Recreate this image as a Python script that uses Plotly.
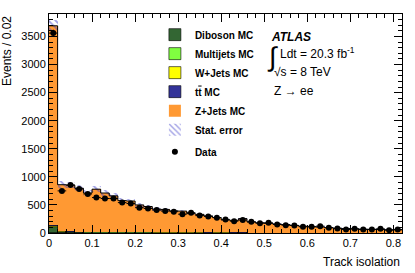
import numpy as np
import plotly.graph_objects as go

# ---------------- data ----------------
bin_width = 0.02
bin_edges = [round(i * 0.02, 2) for i in range(42)]   # 0 .. 0.82

data_counts = [3560, 750, 855, 785, 695, 631, 615, 615, 541, 525,
               451, 437, 409, 391, 380, 335, 362, 310, 295, 272,
               242, 211, 230, 200, 175, 183, 152, 140, 134, 111,
               111, 122, 93, 81, 63, 75, 63, 63, 75, 50, 63]

mc_total = [3690, 860, 852, 797, 712, 780, 712, 662, 577, 570,
            500, 472, 426, 420, 395, 390, 346, 332, 305, 276,
            232, 226, 256, 196, 181, 171, 160, 150, 135, 121,
            113, 106, 96, 86, 79, 73, 69, 66, 63, 59, 56]

diboson = [85, 14, 10, 9, 8, 8, 7, 7, 6, 6,
           6, 5, 5, 5, 4, 4, 4, 4, 3, 3,
           3, 3, 3, 3, 2, 2, 2, 2, 2, 2,
           2, 2, 2, 2, 1, 1, 1, 1, 1, 1, 1]
multijets = [25, 8, 6, 6, 5, 5, 5, 4, 4, 4,
             4, 4, 3, 3, 3, 3, 3, 3, 3, 2,
             2, 2, 2, 2, 2, 2, 2, 2, 2, 1,
             1, 1, 1, 1, 1, 1, 1, 1, 1, 1, 1]
wjets = [20, 6, 9, 4, 4, 6, 10, 9, 3, 3,
         8, 3, 3, 3, 3, 2, 2, 2, 2, 5,
         6, 2, 2, 2, 2, 2, 2, 2, 2, 1,
         2, 1, 1, 1, 4, 1, 1, 1, 1, 1, 1]
ttbar = [15, 5, 4, 4, 4, 3, 3, 3, 3, 3,
         3, 3, 2, 2, 2, 2, 2, 2, 2, 2,
         2, 2, 2, 1, 1, 1, 1, 1, 1, 1,
         1, 1, 1, 1, 1, 1, 1, 1, 1, 1, 1]
stat_err = [110, 60, 58, 52, 48, 50, 45, 42, 38, 37,
            34, 32, 30, 29, 28, 27, 25, 24, 22, 21,
            19, 19, 20, 17, 16, 15, 14, 14, 13, 12,
            11, 11, 10, 10, 9, 9, 8, 8, 8, 8, 7]

x_ticks = [0, 0.1, 0.2, 0.3, 0.4, 0.5, 0.6, 0.7, 0.8]
x_tick_labels = ["0", "0.1", "0.2", "0.3", "0.4", "0.5", "0.6", "0.7", "0.8"]
y_ticks = [0, 500, 1000, 1500, 2000, 2500, 3000, 3500]

# ---------------- derived ----------------
edges = np.array(bin_edges)
centers = (edges[:-1] + edges[1:]) / 2
mc = np.array(mc_total, float)
zjets = mc - np.array(diboson) - np.array(multijets) - np.array(wjets) - np.array(ttbar)
err = np.array(stat_err, float)
dat = np.array(data_counts, float)

FONT = "Liberation Sans, Arial, Helvetica, sans-serif"
fig = go.Figure()

small = [("Diboson MC", diboson, "#336633"),
         ("Multijets MC", multijets, "#80ff40"),
         ("W+Jets MC", wjets, "#ffff00"),
         ("t<span style='text-decoration:overline'>t</span> MC", ttbar, "#333399")]
for name, vals, col in small:
    fig.add_trace(go.Bar(x=centers, y=vals, width=bin_width, name=name,
                         marker=dict(color=col, line=dict(color="black", width=0.6)),
                         legendgroup="mc"))
fig.add_trace(go.Bar(x=centers, y=zjets, width=bin_width, name="Z+Jets MC",
                     marker=dict(color="#ff9933", line=dict(width=0)),
                     legendgroup="mc"))

# stat error hatched band
fig.add_trace(go.Bar(x=centers, y=2 * err, base=mc - err, width=bin_width,
                     name="Stat. error", legendgroup="mc",
                     marker=dict(color="rgba(0,0,0,0)",
                                 line=dict(width=0),
                                 pattern=dict(shape="\\", fgcolor="#4444cc",
                                              bgcolor="rgba(255,255,255,0)",
                                              size=5, solidity=0.35))))

# MC total outline (step)
fig.add_trace(go.Scatter(x=list(edges), y=list(mc) + [mc[-1]], mode="lines",
                         line=dict(color="black", width=1, shape="hv"),
                         showlegend=False, hoverinfo="skip"))

# data
fig.add_trace(go.Scatter(x=centers, y=dat, mode="markers", name="Data",
                         legendgroup="data",
                         marker=dict(color="black", size=6),
                         error_y=dict(type="data", array=np.sqrt(dat), color="black",
                                      thickness=1, width=0),
                         error_x=dict(type="constant", value=bin_width / 2, color="black",
                                      thickness=1, width=0)))

fig.update_layout(
    barmode="stack", bargap=0,
    width=415, height=273,
    margin=dict(l=49, r=13, t=14, b=40),
    paper_bgcolor="white", plot_bgcolor="white",
    font=dict(family=FONT, size=11, color="black"),
    showlegend=True,
    legend=dict(x=0.30, y=0.972, xanchor="left", yanchor="top",
                traceorder="grouped", tracegroupgap=3,
                font=dict(family=FONT, size=10, weight="bold"),
                bgcolor="rgba(0,0,0,0)", itemwidth=30),
)

fig.update_xaxes(range=[0, 0.82], tickvals=x_ticks, ticktext=x_tick_labels,
                 ticks="inside", ticklen=8, tickcolor="black", mirror="allticks",
                 showline=True, linecolor="black", linewidth=1, showgrid=False,
                 zeroline=False, tickfont=dict(size=11), automargin=False,
                 minor=dict(dtick=0.02, tick0=0, ticks="inside", ticklen=4,
                            tickcolor="black", showgrid=False))
fig.update_yaxes(range=[0, 3900], tickvals=y_ticks,
                 ticks="inside", ticklen=8, tickcolor="black", mirror="allticks",
                 showline=True, linecolor="black", linewidth=1, showgrid=False,
                 zeroline=False, tickfont=dict(size=11), automargin=False,
                 minor=dict(dtick=100, tick0=0, ticks="inside", ticklen=4,
                            tickcolor="black", showgrid=False))

W, Hh = 353.0, 219.0
def px2paper(px, py):
    return (px - 49) / W, (233 - py) / Hh

a = []
for txt, px, py, size in [
    ("<b><i>ATLAS</i></b>", 269, 37, 12),
    ("\u222b", 265, 57, 27),
    ("Ldt = 20.3 fb<sup>-1</sup>", 278, 53, 12),
    ("\u221as = 8 TeV", 272, 72, 12),
    ("Z \u2192 ee", 272, 91, 12),
]:
    xp, yp = px2paper(px, py)
    a.append(dict(text=txt, x=xp, y=yp, xref="paper", yref="paper",
                  xanchor="left", yanchor="middle", align="left", showarrow=False,
                  font=dict(size=size)))
a.append(dict(text="Track isolation", x=1, y=0, xref="paper", yref="paper",
              xanchor="right", yanchor="top", yshift=-20, showarrow=False,
              font=dict(size=12)))
a.append(dict(text="Events / 0.02", x=0, y=1, xref="paper", yref="paper",
              xanchor="right", yanchor="top", xshift=-33, textangle=-90,
              showarrow=False, font=dict(size=12)))
fig.update_layout(annotations=a)

fig.write_html("out.html", config={"displayModeBar": False},
               post_script="document.body.style.margin='0';document.body.style.padding='0';")
